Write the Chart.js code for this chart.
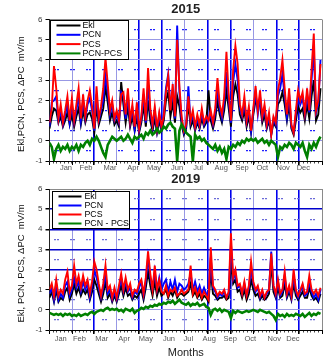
<!DOCTYPE html>
<html><head><meta charset="utf-8">
<script src="https://cdn.jsdelivr.net/npm/chart.js@4"></script>
<style>
html,body{margin:0;padding:0;background:#fff;}
#wrap{position:relative;width:330px;height:362px;overflow:hidden;background:#fff;}
canvas{position:absolute;left:0;}
</style></head><body>
<div id="wrap">
<canvas id="c1" width="330" height="175" style="top:0"></canvas>
<canvas id="c2" width="330" height="194" style="top:168px"></canvas>
</div>
<script>
// ---- data (values every DAY_STEP days) ----
const DAY_STEP = 3;
const monthNames = ['Jan','Feb','Mar','Apr','May','Jun','Jul','Aug','Sep','Oct','Nov','Dec'];
const monthStartDays = [0,31,59,90,120,151,181,212,243,273,304,334,365];
const monthLineStyle = ['axis','light','dark','light','dark','dark','light','dark','dark','light','dark','dark','edge'];
const labelDays2015 = [22,49,81,112,140,171,199,230,258,285,313,340];
const labelDays2019 = [15,40,70,100,129,160,186,214,242,269,301,326];
const yTickValues = [-1,0,1,2,3,4,5,6];
const yHalfValues = [-0.5,0.5,1.5,2.5,3.5,4.5,5.5];

const ekl2015 = [0.6,1.2,1.6,1.5,0.9,1.2,0.7,1.0,1.4,0.8, 1.3,0.7,1.2,1.6,0.8,1.5,0.9,1.3,1.4,1.1,
  0.4,1.7,0.8,1.2,1.6,2.7,1.9,1.0,1.4,0.8, 1.0,0.7,2.9,1.8,0.9,1.7,0.7,1.2,0.5,1.2,
  0.4,0.9,1.8,0.7,2.0,1.0,0.5,1.1,0.4,1.0, 0.5,1.0,2.0,2.4,1.2,1.9,0.9,2.2,1.7,0.8,
  0.3,0.6,1.9,0.7,1.0,0.5,0.9,0.6,1.1,0.7, 0.9,2.5,1.0,0.6,1.1,2.0,1.3,0.9,1.5,2.5,
  1.6,0.7,2.2,2.8,2.3,1.3,1.0,1.5,0.7,1.2, 0.4,1.3,2.0,1.7,1.8,0.9,1.3,0.6,1.0,0.3,
  0.9,0.7,1.8,2.0,2.4,1.8,1.0,1.8,0.6,0.3, 1.0,1.7,1.4,1.6,1.0,1.8,1.1,2.2,3.0,1.0, 1.3,2.6];
const pcn2015 = [0.7,1.9,2.0,2.2,1.0,1.5,0.8,1.3,1.8,0.9, 1.8,0.9,1.5,2.2,1.0,2.0,1.1,1.8,2.1,1.5,
  0.5,2.3,1.0,1.5,2.0,3.2,2.4,1.3,1.8,1.0, 1.3,0.9,2.4,2.2,1.1,2.3,0.9,1.6,0.6,1.6,
  0.5,1.1,2.3,0.9,2.8,1.4,0.7,1.5,0.5,1.3, 0.6,1.3,2.6,3.3,1.6,2.5,1.1,5.7,2.4,1.0,
  0.4,0.7,2.7,0.9,1.3,0.6,1.1,0.7,1.4,0.8, 1.1,1.0,1.3,0.8,1.4,2.6,1.6,1.1,1.9,3.4,
  2.0,0.9,2.9,3.8,3.0,1.6,1.2,1.9,0.9,1.5, 0.5,1.5,2.4,1.3,2.2,1.1,1.6,0.7,1.2,0.3,
  1.1,0.8,2.2,2.6,3.3,2.2,1.2,2.3,0.7,0.4, 1.3,2.2,1.8,2.1,1.3,2.3,1.4,3.0,4.5,1.4, 1.8,4.0];
const pcs2015 = [0.9,1.6,3.7,2.6,1.1,1.8,0.9,1.5,2.2,1.0, 2.1,1.0,1.8,2.6,1.1,2.3,1.2,2.0,2.5,1.7,
  0.6,2.7,1.1,1.7,2.6,4.1,2.8,1.5,2.0,1.1, 1.5,1.0,2.3,2.4,1.3,2.6,1.0,1.8,0.7,1.9,
  0.6,1.2,2.6,1.0,3.6,1.6,0.8,1.7,0.6,1.4, 0.7,1.2,2.4,3.2,1.5,2.8,1.2,5.0,2.7,1.2,
  0.5,0.8,2.2,1.0,1.5,0.7,1.3,0.8,1.6,0.9, 1.2,1.0,1.5,0.9,1.6,3.1,1.8,1.3,2.2,4.4,
  2.3,1.0,3.5,4.7,3.8,1.8,1.3,2.2,1.0,1.7, 0.5,1.6,2.7,1.5,2.5,1.2,1.8,0.8,1.4,0.3,
  1.2,0.9,2.5,3.1,4.0,2.6,1.3,2.6,0.8,0.4, 1.5,2.5,2.0,2.4,1.4,2.6,1.5,3.5,5.3,1.5, 2.0,3.8];
const diff2015 = [-0.1,-0.3,-0.9,-0.4,-0.2,-0.5,-0.3,-0.4,-0.2,-0.5, -0.3,-0.4,-0.2,-0.5,-0.2,-0.3,-0.1,0.0,-0.2,0.1,
  0.0,0.2,0.0,-0.3,-0.6,-0.8,-0.2,0.0,0.2,0.1, 0.0,0.1,0.2,0.0,0.1,0.3,0.1,-0.1,0.2,0.1,
  0.2,0.3,0.1,0.4,0.3,0.5,0.3,0.4,0.6,0.4, 0.5,0.7,0.6,0.8,0.9,0.7,0.6,-1.0,0.5,0.8,
  0.6,0.4,0.3,0.2,-1.0,0.3,0.1,0.2,0.0,0.1, -0.1,-0.2,-0.3,-0.4,-0.2,-0.5,-0.3,-0.6,-0.4,-0.9,
  -0.3,-0.4,-0.2,-0.3,-0.1,-0.2,0.0,-0.1,0.1,0.0, 0.1,0.0,0.1,-0.1,0.0,0.1,-0.1,0.0,-0.2,0.0,
  -0.1,-0.2,-0.8,-0.3,-0.4,-0.2,-0.3,-0.1,-0.2,-0.4, -0.1,-0.2,-0.3,-0.1,-0.5,-0.8,-0.2,-0.4,-0.1,-0.3, 0.0,0.2];

const ekl2019 = [0.6,0.9,0.4,1.0,0.4,0.6,0.5,0.9,1.1,0.5, 0.8,1.3,0.8,1.1,0.7,1.0,0.8,1.0,0.5,0.9,
  1.5,1.2,0.8,0.4,0.8,1.4,0.6,0.8,0.4,0.7, 0.4,0.8,1.2,0.7,1.1,0.7,0.8,0.5,0.7,0.6,
  0.8,1.0,0.5,1.1,1.9,1.2,0.7,1.4,0.7,1.1, 0.7,0.8,1.0,0.6,0.9,0.7,1.0,0.6,0.8,0.8,
  0.7,0.8,0.9,1.3,0.7,0.9,0.6,0.8,0.5,0.7, 0.6,0.4,1.9,0.8,0.7,0.5,0.6,0.6,0.7,0.5,
  0.6,2.4,1.3,1.5,0.9,1.0,0.6,1.0,0.5,0.8, 1.5,1.0,0.7,0.8,0.5,0.7,0.5,0.6,0.8,2.3,
  0.9,0.6,1.1,0.6,0.7,1.3,0.6,0.9,0.5,1.3, 0.7,0.5,0.7,0.9,0.6,0.6,1.1,0.7,0.5,0.6, 0.4,0.8];
const pcn2019 = [0.8,1.1,0.5,1.3,0.5,0.8,0.6,1.2,1.4,0.7, 1.0,1.6,1.1,1.4,0.9,1.4,1.0,1.3,0.6,1.2,
  2.0,1.6,1.1,0.6,1.1,1.8,0.8,1.0,0.5,0.9, 0.5,1.0,1.6,0.9,1.4,0.9,1.1,0.6,0.9,0.8,
  1.1,1.4,0.7,1.4,2.6,1.6,1.0,1.9,1.0,1.6, 1.0,1.3,1.5,0.9,1.4,1.0,1.5,0.9,1.3,1.2,
  1.0,1.1,1.3,1.8,1.0,1.4,0.9,1.2,0.8,1.1, 0.8,0.6,2.6,1.1,0.9,0.6,0.8,0.7,0.9,0.6,
  0.8,3.3,1.5,1.8,1.1,1.2,0.8,1.3,0.7,1.1, 2.0,1.3,0.9,1.1,0.6,0.9,0.6,0.8,1.0,2.9,
  1.2,0.7,1.4,0.7,0.9,1.7,0.7,1.1,0.6,1.7, 0.9,0.6,0.9,1.2,0.7,0.8,1.4,0.9,0.6,0.8, 0.5,1.0];
const pcs2019 = [1.0,1.3,0.7,1.5,0.7,1.0,0.8,1.5,1.9,0.9, 1.2,2.2,1.3,1.7,1.1,1.7,1.2,1.5,0.8,1.4,
  2.4,2.0,1.3,0.7,1.3,2.2,1.0,1.2,0.6,1.1, 0.6,1.2,1.8,1.0,1.6,1.0,1.3,0.7,1.0,0.9,
  1.3,1.5,0.8,1.6,2.9,1.8,1.0,2.2,1.0,1.5, 0.9,0.8,1.2,0.7,1.0,0.9,1.1,0.7,0.8,1.0,
  0.8,0.9,1.0,2.2,0.8,1.1,0.7,1.0,0.6,0.9, 0.7,0.5,3.1,1.2,1.0,0.7,0.9,0.8,1.0,0.6,
  0.9,3.8,1.6,2.0,1.2,1.3,0.8,1.4,0.7,1.2, 2.4,1.4,1.0,1.2,0.7,1.0,0.6,0.9,1.0,2.8,
  1.2,0.8,1.5,0.8,1.0,1.9,0.8,1.2,0.7,2.0, 1.0,0.7,1.0,1.3,0.8,0.9,1.7,1.0,0.8,1.0, 0.7,1.1];
const diff2019 = [-0.15,-0.2,-0.25,-0.2,-0.25,-0.2,-0.3,-0.2,-0.25,-0.2, -0.3,-0.25,-0.3,-0.2,-0.3,-0.25,-0.2,-0.25,-0.15,-0.1,
  -0.2,-0.1,-0.05,0.0,-0.05,0.05,0.1,0.0,0.05,0.0, 0.05,-0.05,0.0,-0.1,0.05,0.0,-0.05,0.05,-0.15,-0.05,
  0.0,0.1,0.05,0.15,0.1,0.2,0.15,0.25,0.2,0.3, 0.25,0.35,0.3,0.4,0.35,0.45,0.3,0.4,0.5,0.35,
  0.3,0.25,0.35,0.2,0.3,0.25,0.35,0.2,0.25,0.3, 0.15,0.1,-0.25,0.0,0.05,-0.05,0.05,-0.1,0.0,-0.05,
  -0.1,-0.4,-0.05,-0.15,-0.05,-0.1,-0.15,-0.1,-0.05,-0.1, -0.05,0.0,-0.05,-0.1,0.0,-0.05,-0.1,-0.15,-0.1,-0.2,
  -0.3,-0.5,-0.2,-0.3,-0.25,-0.35,-0.2,-0.3,-0.25,-0.3, -0.2,-0.25,-0.3,-0.2,-0.35,-0.25,-0.15,-0.3,-0.2,-0.25, -0.15,-0.2];

// ---- rendering ----
const FONT = "'Liberation Sans', Arial, sans-serif";
const LIGHT = '#9898e4', DARK = '#0000ee';
function pts(values){ return values.map((v,i)=>({x:i*DAY_STEP, y:v})); }

const boxLegend = {
  id:'boxLegend',
  afterDatasetsDraw(chart, args, o){
    const {ctx, chartArea} = chart;
    const x0 = Math.round(chartArea.left + o.dx) + 0.5, y0 = Math.round(chartArea.top + o.dy) + 0.5;
    ctx.save();
    ctx.fillStyle = '#fff'; ctx.fillRect(x0, y0, o.w, o.h);
    ctx.strokeStyle = '#000'; ctx.lineWidth = 1; ctx.strokeRect(x0, y0, o.w, o.h);
    ctx.font = '8.8px ' + FONT; ctx.textBaseline = 'middle'; ctx.fillStyle = '#000';
    chart.data.datasets.forEach((ds, k) => {
      const y = y0 + o.first + k*o.gap;
      ctx.strokeStyle = ds.borderColor; ctx.lineWidth = 2;
      ctx.beginPath(); ctx.moveTo(x0 + o.l1, y); ctx.lineTo(x0 + o.l2, y); ctx.stroke();
      ctx.fillText(ds.label, x0 + o.tx, y);
    });
    ctx.restore();
  }
};

function build(id, o){
  return new Chart(document.getElementById(id), {
    type:'line',
    data:{datasets:[
      {label:o.names[0], data:pts(o.ekl), borderColor:'#000000', order:5},
      {label:o.names[1], data:pts(o.pcn), borderColor:'#0000ff', order:4},
      {label:o.names[2], data:pts(o.pcs), borderColor:'#ff0000', order:2},
      {label:o.names[3], data:pts(o.diff), borderColor:'#008000', borderWidth:2.6, order:1}
    ]},
    plugins:[boxLegend],
    options:{
      responsive:false, animation:false, events:[],
      elements:{line:{borderWidth:1.9, tension:0}, point:{radius:0}},
      layout:{padding:{left:0, right:8, top:0, bottom:0}},
      plugins:{
        legend:{display:false}, tooltip:{enabled:false},
        title:{display:true, text:o.title, fullSize:false, color:'#222',
          font:{family:FONT, size:13, weight:'bold'}, padding:{top:o.tT, bottom:o.tB}},
        boxLegend:o.legend
      },
      scales:{
        x:{type:'linear', position:'bottom', min:0, max:365,
          afterBuildTicks:s=>{ s.ticks = o.labelDays.map(v=>({value:v})); },
          afterFit:s=>{ s.height = o.xH; },
          ticks:{callback:(v,i)=>monthNames[i], autoSkip:false, maxRotation:0, color:'#555',
            font:{family:FONT, size:7.5}, padding:o.xPad},
          grid:{display:false, drawTicks:false, drawOnChartArea:false},
          border:{display:true, color:'#000', width:1},
          title:{display:!!o.xTitle, text:o.xTitle || '', color:'#222',
            font:{family:FONT, size:11}, padding:{top:0, bottom:2.4}}
        },
        xm:{type:'linear', position:'bottom', weight:-2, min:0, max:365,
          afterBuildTicks:s=>{ s.ticks = monthStartDays.map(v=>({value:v})); },
          afterFit:s=>{ s.height = 0; },
          ticks:{display:false},
          grid:{drawOnChartArea:true, drawTicks:true, tickLength:4, tickColor:'#000',
            color:c=>{ const t = monthLineStyle[c.index]; return t==='dark'?DARK:t==='light'?LIGHT:t==='edge'?'#8a8a8a':'#222'; },
            lineWidth:c=>{ const t = monthLineStyle[c.index]; return t==='dark'?1.6:1; }},
          border:{display:false}
        },
        xt:{type:'linear', position:'bottom', weight:-1, min:0, max:365,
          afterBuildTicks:s=>{ const t=[]; for(let d=5; d<365; d+=5) t.push({value:d}); s.ticks=t; },
          afterFit:s=>{ s.height = 0; },
          ticks:{display:false},
          grid:{drawOnChartArea:false, drawTicks:true, tickLength:2.5, tickColor:'#444', tickWidth:1},
          border:{display:false}
        },
        y:{type:'linear', position:'left', min:-1, max:6,
          afterBuildTicks:s=>{ s.ticks = yTickValues.map(v=>({value:v})); },
          afterFit:s=>{ s.width = 49.5; },
          ticks:{color:'#333', font:{family:FONT, size:8}, padding:3},
          grid:{tickLength:4, tickColor:'#000',
            color:c=>{ const v=c.tick.value; if(v===6) return '#8a8a8a'; if(v===-1) return '#000'; return o.darkY.includes(v)?'#0000cc':LIGHT; },
            lineWidth:c=>{ const v=c.tick.value; return o.darkY.includes(v)?1.5:1; }},
          border:{display:true, color:'#222', width:1},
          title:{display:true, text:o.yTitle, color:'#111', font:{family:FONT, size:9.5}, padding:{top:16, bottom:0}}
        },
        yh:{type:'linear', position:'left', min:-1, max:6,
          afterBuildTicks:s=>{ s.ticks = yHalfValues.map(v=>({value:v})); },
          afterFit:s=>{ s.width = 0; },
          ticks:{display:false},
          grid:{drawTicks:false, color:o.halfColor, lineWidth:1.2},
          border:{display:false, dash:[2,1,2,11], dashOffset:-4}
        }
      }
    }
  });
}

build('c1', {
  title:'2015', tT:1.7, tB:2.2, xH:14, xPad:2.5, xTitle:'',
  names:['Ekl','PCN','PCS','PCN-PCS'],
  ekl:ekl2015, pcn:pcn2015, pcs:pcs2015, diff:diff2015,
  labelDays:labelDays2015, darkY:[], halfColor:'#2020ff',
  yTitle:'Ekl,PCN, PCS, \u0394PC  mV/m   ',
  legend:{dx:0.5, dy:0.5, w:78, h:39, first:5, gap:9.3, l1:6, l2:30, tx:32}
});
build('c2', {
  title:'2019', tT:3.2, tB:2.2, xH:32, xPad:4.5, xTitle:'Months',
  names:['Ekl','PCN','PCS','PCN - PCS'],
  ekl:ekl2019, pcn:pcn2019, pcs:pcs2019, diff:diff2019,
  labelDays:labelDays2019, darkY:[2,3,4,5], halfColor:'#6a6ad8',
  yTitle:'Ekl, PCN, PCS, \u0394PC  mV/m   ',
  legend:{dx:2.5, dy:2, w:77, h:37, first:5, gap:9, l1:6, l2:29, tx:32}
});
</script>
</body></html>
